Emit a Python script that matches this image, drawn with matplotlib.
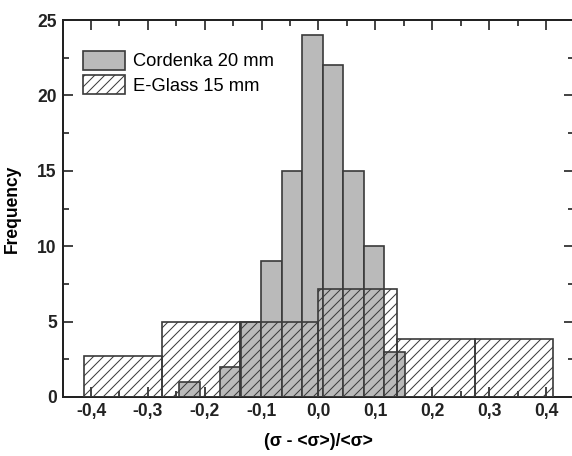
import matplotlib
matplotlib.use("Agg")
import matplotlib.pyplot as plt
import numpy as np
from matplotlib.ticker import MultipleLocator, FuncFormatter
from matplotlib.patches import Patch

# Cordenka 20 mm histogram (bin edges and counts)
cord_edges = [-0.245, -0.209, -0.173, -0.137, -0.101, -0.0645, -0.0284,
              0.0077, 0.0438, 0.0799, 0.116, 0.152]
cord_counts = [1, 0, 2, 5, 9, 15, 24, 22, 15, 10, 3]

# E-Glass 15 mm histogram
glass_edges = [-0.413, -0.275, -0.138, 0.0, 0.138, 0.275, 0.413]
glass_counts = [2.75, 5, 5, 7.15, 3.85, 3.85]

xticks = [-0.4, -0.3, -0.2, -0.1, 0.0, 0.1, 0.2, 0.3, 0.4]
yticks = [0, 5, 10, 15, 20, 25]

plt.rcParams['font.family'] = ['Liberation Sans', 'DejaVu Sans']
plt.rcParams['hatch.linewidth'] = 0.6
plt.rcParams['hatch.color'] = '#555555'

dpi = 120
fig = plt.figure(figsize=(572 / dpi, 456 / dpi), dpi=dpi)
ax = fig.add_axes([0.1094, 0.1294, 1.0042 - 0.1094, 0.9561 - 0.1294])

ce = np.array(cord_edges)
ax.bar(ce[:-1], cord_counts, width=np.diff(ce), align='edge',
       facecolor='#bababa', edgecolor='#3a3a3a', linewidth=1.0, zorder=2)

ge = np.array(glass_edges)
ax.bar(ge[:-1], glass_counts, width=np.diff(ge), align='edge',
       facecolor='none', edgecolor='#3a3a3a', linewidth=1.0, hatch='////', zorder=3)

ax.set_xlim(-0.45, 0.45)
ax.set_ylim(0, 25)
ax.set_xticks(xticks)
ax.set_yticks(yticks)
ax.xaxis.set_minor_locator(MultipleLocator(0.05))
ax.yaxis.set_minor_locator(MultipleLocator(2.5))
ax.xaxis.set_major_formatter(FuncFormatter(lambda v, p: f"{v:.1f}".replace('.', ',').replace('-0,0', '0,0')))
ax.tick_params(which='both', direction='in', top=True, right=True, colors='#222222',
               labelsize=10.5, width=1.0)
ax.tick_params(which='major', length=6)
ax.tick_params(which='minor', length=3.5)
for lab in ax.get_xticklabels() + ax.get_yticklabels():
    lab.set_fontweight('bold')
for s in ax.spines.values():
    s.set_linewidth(1.2)
    s.set_color('#222222')

ax.set_xlabel('(σ - <σ>)/<σ>', fontsize=10.5, fontweight='bold', labelpad=8)
ax.set_ylabel('Frequency', fontsize=10.5, fontweight='bold', labelpad=10)

handles = [Patch(facecolor='#bababa', edgecolor='#3a3a3a', linewidth=1.0),
           Patch(facecolor='white', edgecolor='#3a3a3a', linewidth=1.0, hatch='////')]
ax.legend(handles, ['Cordenka 20 mm', 'E-Glass 15 mm'], loc='upper left',
          frameon=False, fontsize=11, handlelength=2.3, handleheight=1.2,
          handletextpad=0.4, labelspacing=0.25, bbox_to_anchor=(0.008, 0.962))

fig.savefig('out.png', dpi=dpi)
